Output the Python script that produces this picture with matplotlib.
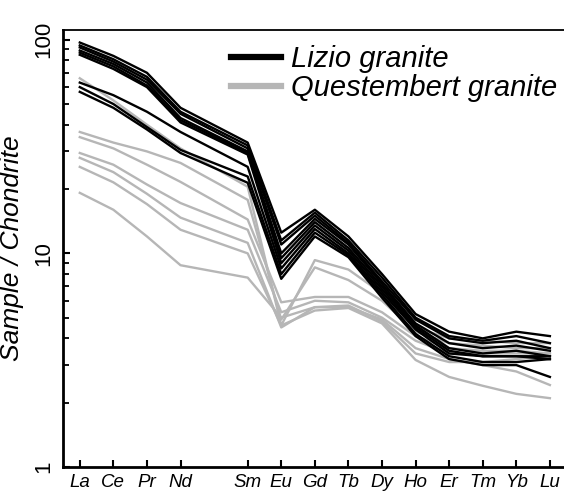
import matplotlib
matplotlib.use("Agg")
import matplotlib.pyplot as plt
from matplotlib.ticker import NullFormatter, LogLocator
import numpy as np

plt.rcParams['font.family'] = ['Liberation Sans', 'DejaVu Sans']

# ---- data -------------------------------------------------------------
elements = ["La", "Ce", "Pr", "Nd", "Sm", "Eu", "Gd", "Tb", "Dy", "Ho", "Er", "Tm", "Yb", "Lu"]
# Pm has no value, so the axis keeps a gap between Nd and Sm
positions = [0, 1, 2, 3, 5, 6, 7, 8, 9, 10, 11, 12, 13, 14]

lizio = [
    [97, 84, 70, 48, 33, 12.5, 16.0, 12.0, 8.0, 5.2, 4.3, 4.0, 4.3, 4.1],
    [94, 81, 67, 46, 32, 11.5, 15.5, 11.5, 7.7, 5.0, 4.1, 3.9, 4.1, 3.8],
    [92, 79, 65, 45, 31, 11.0, 15.0, 11.2, 7.4, 4.9, 4.0, 3.8, 3.9, 3.6],
    [89, 77, 63, 43, 30, 10.0, 14.5, 11.0, 7.2, 4.7, 3.8, 3.6, 3.7, 3.5],
    [87, 75, 61, 42, 29.5, 9.5, 14.0, 10.6, 7.0, 4.6, 3.6, 3.4, 3.5, 3.3],
    [85, 73, 60, 41, 29, 9.0, 13.5, 10.3, 6.8, 4.5, 3.5, 3.3, 3.3, 3.2],
    [63, 55, 46, 37, 25.4, 8.5, 13.0, 10.0, 6.6, 4.4, 3.4, 3.3, 3.3, 3.3],
    [60, 50, 39, 30.5, 22.9, 8.0, 12.5, 9.8, 6.4, 4.2, 3.3, 3.1, 3.1, 3.2],
    [57, 48, 38, 29.5, 21.4, 7.6, 12.0, 9.6, 6.2, 4.1, 3.2, 3.0, 3.0, 2.64],
]

questembert = [
    [66, 52, 40, 31, 20.5, 4.6, 9.3, 8.4, 6.5, 4.5, 4.0, 3.9, 3.8, 3.8],
    [37, 33, 30, 26.5, 17.8, 4.9, 8.6, 7.5, 6.0, 4.3, 3.8, 3.7, 3.6, 3.6],
    [35, 31, 26, 21.6, 14.4, 5.9, 6.25, 6.25, 5.3, 4.1, 3.6, 3.5, 3.5, 3.4],
    [29.5, 26, 21, 17.2, 12.9, 5.3, 6.0, 5.9, 5.0, 3.9, 3.4, 3.4, 3.4, 3.4],
    [28, 24, 19, 14.7, 11.2, 4.5, 5.6, 5.6, 4.9, 3.6, 3.2, 3.0, 2.8, 2.42],
    [25.4, 21.5, 17, 12.9, 10.0, 4.6, 5.4, 5.55, 4.7, 3.17, 2.64, 2.4, 2.2, 2.1],
    [19.2, 16, 12, 8.8, 7.7, 5.0, 5.6, 5.7, 4.8, 3.4, 3.1, 3.1, 3.2, 3.3],
]

black = "#000000"
grey = "#b6b6b6"

# ---- figure -----------------------------------------------------------
fig = plt.figure(figsize=(5.64, 4.93), dpi=100)
ax = fig.add_axes([0.1117, 0.0527, 0.8883, 0.8864])

for row in questembert:
    ax.plot(positions, row, color=grey, lw=1.7, zorder=2)
for row in lizio:
    ax.plot(positions, row, color=black, lw=1.7, zorder=3)

ax.set_yscale("log")
ax.set_ylim(1, 111)
ax.set_xlim(-0.5, 14.42)

ax.set_xticks(positions)
ax.set_xticklabels(elements, fontsize=13.5, style="italic")
ax.set_yticks([1, 10, 100])
ax.set_yticklabels(["1", "10", "100"], fontsize=16, rotation=90, va="center")
ax.yaxis.set_minor_locator(LogLocator(base=10, subs=np.arange(2, 10)))
ax.yaxis.set_minor_formatter(NullFormatter())

ax.tick_params(axis="both", which="major", direction="in", length=5, width=1.5, pad=6)
ax.tick_params(axis="y", which="minor", direction="in", length=4, width=1.3)
ax.tick_params(axis="x", pad=5)

ax.spines["right"].set_visible(False)
ax.spines["left"].set_linewidth(2)
ax.spines["bottom"].set_linewidth(2)
ax.spines["top"].set_linewidth(1.3)

ax.set_ylabel("Sample / Chondrite", fontsize=19, style="italic")
ax.yaxis.set_label_coords(-0.078, 0.5)

# legend
h1, = ax.plot([], [], color=black, lw=4.5)
h2, = ax.plot([], [], color=grey, lw=4.5)
leg = ax.legend([h1, h2], ["Lizio granite", "Questembert granite"],
                loc="upper right", bbox_to_anchor=(0.987, 0.966), frameon=False,
                prop={"size": 21, "style": "italic"}, handlelength=1.7,
                handletextpad=0.35, labelspacing=0.05, borderaxespad=0, borderpad=0)

fig.savefig("out.png", dpi=100)
